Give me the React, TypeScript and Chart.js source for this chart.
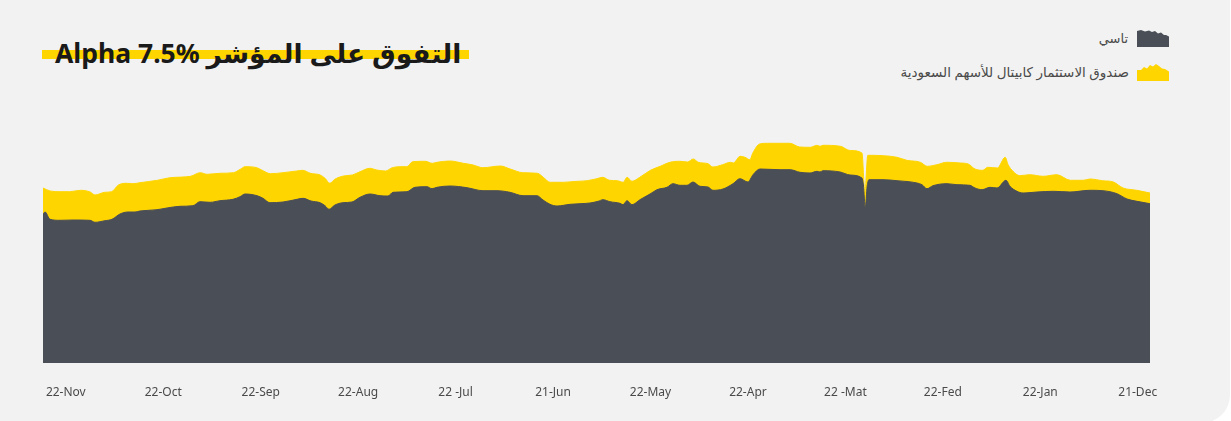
import React, { useEffect, useRef } from "react";
import { Chart, registerables } from "chart.js";
Chart.register(...registerables);

const GRAY = "#4a4e57";
const YELLOW = "#ffd500";

const titleText = "التفوق على المؤشر Alpha 7.5%";
const tasiLabel = "تاسي";
const fundLabel = "صندوق الاستثمار كابيتال للأسهم السعودية";

const monthLabels = ["22-Nov", "22-Oct", "22-Sep", "22-Aug", "22 -Jul", "21-Jun", "22-May", "22-Apr", "22 -Mat", "22-Fed", "22-Jan", "21-Dec"];
const monthTicks = [0, 1, 2, 3, 4, 5, 6, 7, 8, 9, 10, 11];

// fund (yellow) series: time in months from the first label, value
const fundT = [-0.234, -0.16, -0.06, 0.04, 0.15, 0.25, 0.3, 0.4, 0.47, 0.54, 0.63, 0.69, 0.76, 0.94, 1.07, 1.28, 1.38, 1.45, 1.58, 1.72, 1.79, 1.84, 1.96, 2.01, 2.1, 2.23, 2.37, 2.43, 2.51, 2.61, 2.66, 2.71, 2.76, 2.85, 2.94, 3.02, 3.12, 3.19, 3.28, 3.35, 3.43, 3.5, 3.56, 3.69, 3.76, 3.81, 3.94, 4.08, 4.18, 4.28, 4.46, 4.56, 4.69, 4.84, 4.9, 4.97, 5.1, 5.25, 5.35, 5.45, 5.51, 5.58, 5.66, 5.72, 5.76, 5.81, 5.89, 6.0, 6.1, 6.2, 6.3, 6.38, 6.44, 6.49, 6.59, 6.64, 6.74, 6.82, 6.85, 6.92, 6.97, 7.02, 7.05, 7.12, 7.2, 7.43, 7.53, 7.64, 7.71, 7.74, 7.77, 7.95, 8.02, 8.05, 8.17, 8.2, 8.23, 8.39, 8.53, 8.63, 8.77, 8.84, 8.94, 9.04, 9.18, 9.26, 9.33, 9.41, 9.46, 9.56, 9.64, 9.67, 9.72, 9.79, 9.89, 10.03, 10.17, 10.31, 10.44, 10.51, 10.64, 10.75, 10.85, 10.99, 11.126];
const fundV = [175, 172, 171.3, 171.3, 172.7, 171, 168, 170.7, 171.3, 178, 179.7, 179.3, 180.3, 182.7, 185.3, 186.7, 190.3, 188.7, 189.7, 190.3, 193.7, 196.3, 195.3, 193, 189.3, 190.3, 192, 192.7, 189.7, 188, 184.7, 179.7, 183.7, 187, 188, 191.3, 194.7, 193, 192, 195.3, 196.3, 196.3, 201.3, 201.7, 199.7, 200.7, 202, 199.7, 198, 195.3, 197, 194, 190.3, 189.7, 185.7, 180.7, 180.7, 181.7, 182.3, 184.3, 185.7, 182.7, 182.3, 180.7, 185.7, 181.7, 185.7, 192.7, 196.7, 200.7, 201.7, 201, 204, 200.7, 199.3, 196, 198.3, 200.7, 200, 206.7, 205.7, 203.3, 210, 219, 219.7, 219.7, 216, 215.7, 217.7, 216.7, 217.7, 216.7, 213.3, 212.5, 210, 171, 207.7, 207.3, 205.7, 202.7, 200.7, 196.7, 198.3, 200.7, 200, 199, 194, 192.7, 195.7, 195, 205.7, 198.3, 191.7, 187.3, 188.3, 186.7, 188.3, 182.7, 182.7, 184, 182.3, 181, 175, 172.7, 170];

// TASI (gray) series
const tasiT = [-0.234, -0.213, -0.162, -0.06, 0.074, 0.248, 0.3, 0.402, 0.474, 0.556, 0.638, 0.71, 0.761, 0.936, 1.038, 1.172, 1.305, 1.377, 1.48, 1.582, 1.716, 1.788, 1.839, 1.962, 2.023, 2.095, 2.229, 2.373, 2.434, 2.516, 2.609, 2.66, 2.701, 2.762, 2.845, 2.937, 3.019, 3.122, 3.224, 3.306, 3.358, 3.501, 3.583, 3.706, 3.758, 3.809, 3.943, 4.117, 4.281, 4.425, 4.558, 4.692, 4.835, 4.897, 4.969, 5.041, 5.174, 5.277, 5.38, 5.462, 5.513, 5.584, 5.687, 5.718, 5.759, 5.81, 5.892, 5.995, 6.067, 6.169, 6.231, 6.303, 6.375, 6.436, 6.508, 6.59, 6.641, 6.744, 6.847, 6.918, 7.0, 7.052, 7.124, 7.329, 7.432, 7.534, 7.637, 7.709, 7.739, 7.77, 7.945, 8.047, 8.17, 8.185, 8.204, 8.224, 8.242, 8.386, 8.53, 8.735, 8.786, 8.837, 8.899, 9.043, 9.145, 9.279, 9.33, 9.402, 9.484, 9.556, 9.648, 9.689, 9.761, 9.823, 9.966, 10.136, 10.305, 10.51, 10.643, 10.787, 10.89, 10.992, 11.126];
const tasiV = [149, 151, 143.7, 142.7, 143, 142.7, 140.7, 142.3, 143.7, 149, 151, 151, 152, 153.3, 155, 156.7, 157.3, 161.3, 160.7, 162.3, 163.7, 166.3, 169, 167.3, 164.7, 160.3, 161, 163.7, 164.7, 162, 160.3, 157.3, 153.7, 158, 160.3, 161, 165.7, 169, 167.3, 167, 170.7, 171.3, 175.7, 176.3, 174.3, 175.7, 177, 175.3, 172.3, 172.3, 170.7, 167.3, 167.3, 163, 158.7, 157, 158.7, 159.3, 160, 161.7, 163.3, 161.3, 159.7, 158.3, 162.3, 158.3, 163.3, 169, 173.3, 175.7, 179.3, 177.7, 177.7, 181, 176.7, 176, 172.7, 174, 179.3, 184.3, 181, 188.3, 194, 193.3, 193.3, 190.7, 190, 191.7, 191, 192.3, 191, 188, 185, 178, 155.7, 177, 183.3, 183.3, 182.3, 180, 178.3, 174.3, 177.3, 179.3, 178.3, 177.7, 175, 173.3, 175.7, 175, 182.7, 176.7, 171.7, 170, 171, 171.7, 171, 172.7, 172.3, 169.3, 164, 161.7, 159.3];

const yMin = 0;
const yMax = 240;

function GrayIcon() {
  return (
    <svg width="32" height="17" viewBox="0 0 32 17" style={{ display: "block" }}>
      <polygon points="0,1 4,0 8,1.5 12,0.5 15,2 18,1 21,3.5 24,2.5 27,5 29,5 32,6.5 32,17 0,17" fill={GRAY} />
    </svg>
  );
}

function YellowIcon() {
  return (
    <svg width="32" height="18" viewBox="0 0 32 18" style={{ display: "block" }}>
      <polygon points="0,7 4,7 7,4 10,5.5 13,2 16,3.5 19,1 22,3 25,5.5 28,6 32,8.5 32,18 0,18" fill={YELLOW} />
    </svg>
  );
}

export default function App() {
  const ref = useRef<HTMLCanvasElement>(null);

  useEffect(() => {
    document.body.style.margin = "0";
    const canvas = ref.current;
    if (!canvas) return;
    const chart = new Chart(canvas, {
      type: "line",
      data: {
        datasets: [
          {
            label: tasiLabel,
            data: tasiT.map((x, i) => ({ x, y: tasiV[i] })),
            backgroundColor: GRAY,
            borderColor: GRAY,
            borderWidth: 1,
            fill: "origin",
            pointRadius: 0,
            cubicInterpolationMode: "monotone",
          },
          {
            label: fundLabel,
            data: fundT.map((x, i) => ({ x, y: fundV[i] })),
            backgroundColor: YELLOW,
            borderColor: YELLOW,
            borderWidth: 1,
            fill: "origin",
            pointRadius: 0,
            cubicInterpolationMode: "monotone",
          },
        ],
      },
      options: {
        animation: false,
        responsive: false,
        maintainAspectRatio: false,
        layout: { padding: { left: 43, right: 81, top: 123, bottom: 0 } },
        plugins: { legend: { display: false }, tooltip: { enabled: false }, title: { display: false } },
        scales: {
          x: {
            type: "linear",
            min: -0.234,
            max: 11.126,
            afterBuildTicks: (axis: any) => {
              axis.ticks = monthTicks.map((v) => ({ value: v }));
            },
            afterFit: (axis: any) => {
              axis.height = 58;
            },
            grid: { display: false, drawTicks: false },
            border: { display: false },
            ticks: {
              padding: 22,
              maxRotation: 0,
              autoSkip: false,
              color: "#4a4a4a",
              font: { family: "'Noto Sans', sans-serif", size: 12 },
              callback: (v: any) => monthLabels[Number(v)] ?? "",
            },
          },
          y: { display: false, min: yMin, max: yMax },
        },
      },
    });
    return () => chart.destroy();
  }, []);

  return (
    <div style={{ position: "absolute", left: 0, top: 0, width: 1231, height: 421, background: "#ffffff", overflow: "hidden" }}>
      <div style={{ position: "absolute", left: -30, top: -30, width: 1260, height: 453, background: "#f2f2f2", borderRadius: 28 }} />
      <div style={{ position: "absolute", left: 42, top: 50, width: 427, height: 9, background: YELLOW }} />
      <div
        dir="rtl"
        style={{
          position: "absolute",
          left: 55,
          top: 37,
          fontFamily: "'Noto Sans', 'DejaVu Sans', sans-serif",
          fontWeight: 700,
          fontSize: 26.5,
          lineHeight: "32px",
          color: "#1a1a1a",
          whiteSpace: "nowrap",
        }}
      >
        {titleText}
      </div>
      <div style={{ position: "absolute", right: 62, top: 29, display: "flex", alignItems: "center", gap: 9 }}>
        <span dir="rtl" style={{ fontFamily: "'Noto Sans', 'DejaVu Sans', sans-serif", fontSize: 13, color: "#4a4a4a" }}>{tasiLabel}</span>
        <GrayIcon />
      </div>
      <div style={{ position: "absolute", right: 62, top: 63, display: "flex", alignItems: "center", gap: 8 }}>
        <span dir="rtl" style={{ fontFamily: "'Noto Sans', 'DejaVu Sans', sans-serif", fontSize: 13.5, color: "#4a4a4a" }}>{fundLabel}</span>
        <YellowIcon />
      </div>
      <canvas ref={ref} width={1231} height={421} style={{ position: "absolute", left: 0, top: 0, width: 1231, height: 421 }} />
    </div>
  );
}
